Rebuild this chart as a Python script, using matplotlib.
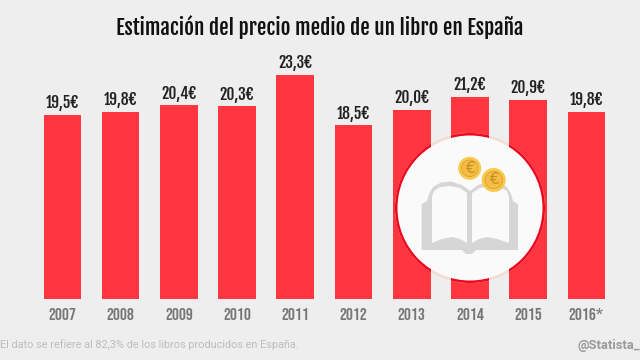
import matplotlib
matplotlib.use('Agg')
import matplotlib.pyplot as plt
from matplotlib.patches import Circle, Polygon

years = ['2007', '2008', '2009', '2010', '2011', '2012', '2013', '2014', '2015', '2016*']
prices = [19.5, 19.8, 20.4, 20.3, 23.3, 18.5, 20.0, 21.2, 20.9, 19.8]
labels = ['19,5€', '19,8€', '20,4€', '20,3€', '23,3€', '18,5€', '20,0€', '21,2€', '20,9€', '19,8€']
title = 'Estimación del precio medio de un libro en España'
note = 'El dato se refiere al 82,3% de los libros producidos en España.'
credit = '@Statista_'

BG = '#eeeeee'
RED = '#ff3540'
HEAD = ['Fjalla One', 'Oswald', 'DejaVu Sans']
YEARS = ['Bebas Neue', 'Oswald', 'DejaVu Sans']

fig = plt.figure(figsize=(6.4, 3.6), dpi=100, facecolor=BG)

# bars: the y axis does not start at zero in the original
ax = fig.add_axes([0, 60.7 / 360, 1, 299.3 / 360])
ax.set_facecolor('none')
bars = ax.bar(range(len(years)), prices, width=0.645, color=RED)
ax.set_xlim(-1.07, 9.92)
ax.set_ylim(1.96, 30.41)
for s in ax.spines.values():
    s.set_visible(False)
ax.set_yticks([])
ax.set_xticks(range(len(years)))
ax.set_xticklabels(years, family=YEARS, fontsize=12.5, color='#777777')
ax.tick_params(axis='x', length=0, pad=6)

for i, bar in enumerate(bars):
    ax.annotate(labels[i], (i, prices[i]), xytext=(0, 2), textcoords='offset points',
                ha='center', va='bottom', family=HEAD, fontsize=11.2, color='#222222')

# overlay in pixels for the round icon
ic = fig.add_axes([0, 0, 1, 1])
ic.set_xlim(0, 640)
ic.set_ylim(360, 0)
ic.axis('off')

cx, cy = 470, 208
ic.add_patch(Circle((cx, cy), 75, fc='#f3dcd3', ec='none'))
for i in [6, 7, 8]:
    ring = Circle((cx, cy), 75, fc='#ea0a20', ec='none')
    ic.add_patch(ring)
    ring.set_clip_path(bars[i])
ic.add_patch(Circle((cx, cy), 72.5, fc='#fafafa', ec='none'))

# book
back = [(421.7, 250), (421.7, 204), (427, 201), (429, 194), (433, 187), (441, 182.5), (451, 181.5),
        (462, 185), (470, 191), (478, 185), (489, 181.5), (499, 182.5), (507, 187), (511, 194),
        (513, 201), (518, 204), (518, 250), (476, 250), (472, 254), (466, 254), (462, 250)]
left_page = [(432, 243), (442, 239), (452, 237), (460, 239), (467, 243), (467, 193), (460, 188),
             (450, 186), (440, 187), (434, 191), (432, 197)]
right_page = [(472, 243), (479, 239), (487, 237), (497, 239), (509, 243), (509, 197), (507, 191),
              (500, 187), (490, 186), (480, 188), (472, 193)]
ic.add_patch(Polygon(back, fc='#d6d6d6', ec='none'))
ic.add_patch(Polygon(left_page, fc='#fafafa', ec='none'))
ic.add_patch(Polygon(right_page, fc='#fafafa', ec='none'))

# coins
for x, y, r in [(469.7, 168.3, 11.5), (493.7, 180, 12)]:
    ic.add_patch(Circle((x, y), r, fc='#f7c94f', ec='none'))
    ic.add_patch(Circle((x, y), r * 0.72, fc='#f4bd45', ec='#e0a02c', lw=0.6))
    ic.text(x, y, '€', ha='center', va='center', fontsize=11, color='#c98e1e')

fig.text(320 / 640, 1 - 27 / 360, title, ha='center', va='center', family=HEAD,
         fontsize=15.2, color='#111111')
fig.text(0.5 / 640, 1 - 345 / 360, note, ha='left', va='center', family='Roboto',
         fontsize=7.85, color='#bdbdbd')
fig.text(578 / 640, 1 - 346 / 360, credit, ha='left', va='center', family='Roboto',
         fontsize=9.3, fontweight='bold', color='#9a9a9a')

fig.savefig('out.png', dpi=100, facecolor=BG)
